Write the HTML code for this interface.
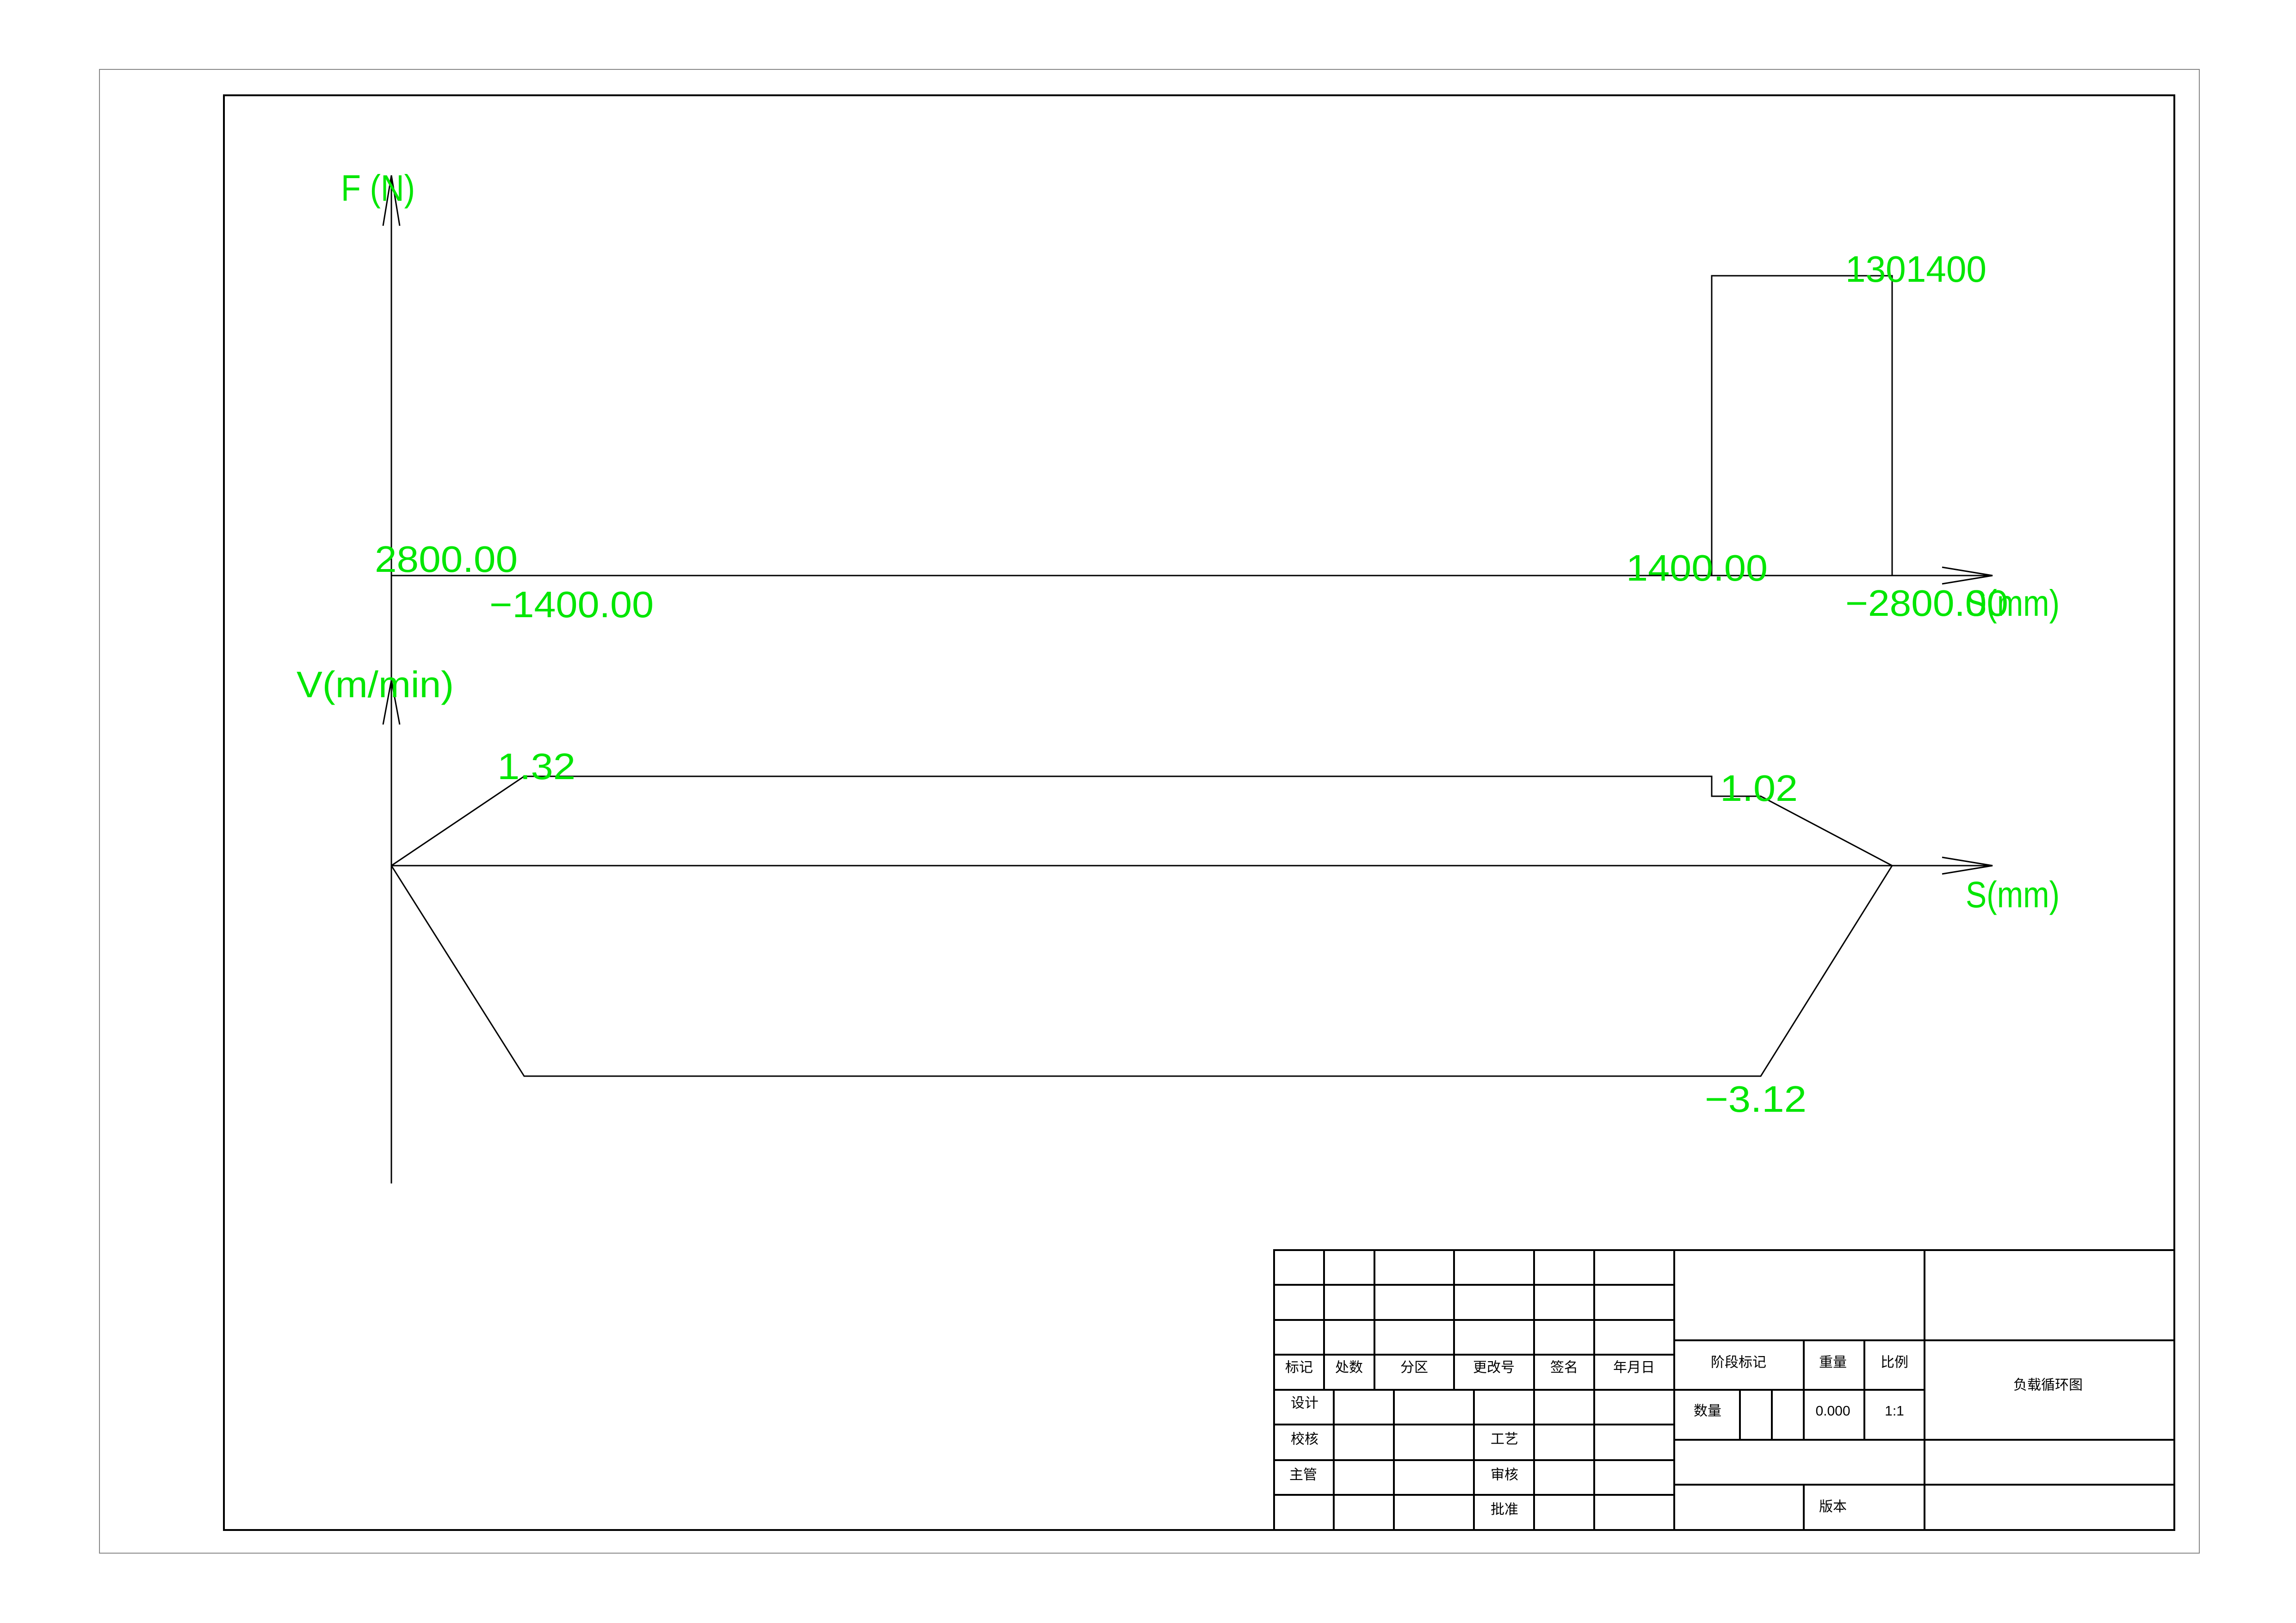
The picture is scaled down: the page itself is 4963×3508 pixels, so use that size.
<!DOCTYPE html>
<html><head><meta charset="utf-8"><style>
html,body{margin:0;padding:0;background:#fff;}
svg{display:block;}
.g{fill:#00e600;font-family:"Liberation Sans",sans-serif;font-size:80px;}
.c{fill:#000;font-family:"Liberation Sans","Noto Sans CJK SC",sans-serif;font-size:30px;text-anchor:middle;dominant-baseline:central;}
</style></head><body>
<svg width="4963" height="3508" viewBox="0 0 4963 3508" xmlns="http://www.w3.org/2000/svg">
<rect x="0" y="0" width="4963" height="3508" fill="#fff"/>
<rect x="215" y="150" width="4539" height="3207" fill="none" stroke="#888" stroke-width="2"/>
<rect x="484" y="206" width="4216" height="3101" fill="none" stroke="#000" stroke-width="4"/>

<g stroke="#000" stroke-width="3" fill="none">
<!-- F axis -->
<line x1="846" y1="379" x2="846" y2="2558"/>
<polyline points="828,488 846,379 864,488"/>
<line x1="846" y1="1244" x2="4307" y2="1244"/>
<polyline points="4198,1226 4307,1244 4198,1262"/>
<polyline points="3700,1244 3700,596 4090,596 4090,1244"/>
<!-- V axis -->
<polyline points="828,1566 846,1470 864,1566"/>
<line x1="846" y1="1871" x2="4307" y2="1871"/>
<polyline points="4198,1853 4307,1871 4198,1889"/>
<polyline points="846,1871 1133,1678 3700,1678 3700,1721 3806,1721 4090,1871"/>
<polyline points="846,1871 1133,2326 3806,2326 4090,1871"/>
</g>

<text class="g" x="737" y="434" textLength="160" lengthAdjust="spacingAndGlyphs">F (N)</text>
<text class="g" x="810" y="1236" textLength="309" lengthAdjust="spacingAndGlyphs">2800.00</text>
<text class="g" x="1058" y="1334" textLength="355" lengthAdjust="spacingAndGlyphs">−1400.00</text>
<text class="g" x="641" y="1507" textLength="340" lengthAdjust="spacingAndGlyphs">V(m/min)</text>
<text class="g" x="1075" y="1684" textLength="169" lengthAdjust="spacingAndGlyphs">1.32</text>
<text class="g" x="3989" y="609" textLength="305" lengthAdjust="spacingAndGlyphs">1301400</text>
<text class="g" x="3515" y="1255" textLength="306" lengthAdjust="spacingAndGlyphs">1400.00</text>
<text class="g" x="3989" y="1331" textLength="352" lengthAdjust="spacingAndGlyphs">−2800.00</text>
<text class="g" x="4249" y="1331" textLength="203" lengthAdjust="spacingAndGlyphs">S(mm)</text>
<text class="g" x="3718" y="1731" textLength="168" lengthAdjust="spacingAndGlyphs">1.02</text>
<text class="g" x="4249" y="1961" textLength="203" lengthAdjust="spacingAndGlyphs">S(mm)</text>
<text class="g" x="3685" y="2403" textLength="220" lengthAdjust="spacingAndGlyphs">−3.12</text>

<!-- title block -->
<g stroke="#000" stroke-width="4" fill="none">
<rect x="2754" y="2702" width="1946" height="605"/>
<!-- left horizontal rows -->
<line x1="2754" y1="2777" x2="3619" y2="2777"/>
<line x1="2754" y1="2853" x2="3619" y2="2853"/>
<line x1="2754" y1="2928" x2="3619" y2="2928"/>
<line x1="2754" y1="3004" x2="3619" y2="3004"/>
<line x1="2754" y1="3079" x2="3619" y2="3079"/>
<line x1="2754" y1="3156" x2="3619" y2="3156"/>
<line x1="2754" y1="3231" x2="3619" y2="3231"/>
<!-- upper left columns -->
<line x1="2862" y1="2702" x2="2862" y2="3004"/>
<line x1="2971" y1="2702" x2="2971" y2="3004"/>
<line x1="3143" y1="2702" x2="3143" y2="3004"/>
<line x1="3316" y1="2702" x2="3316" y2="3307"/>
<line x1="3446" y1="2702" x2="3446" y2="3307"/>
<line x1="3619" y1="2702" x2="3619" y2="3307"/>
<!-- lower left columns -->
<line x1="2883" y1="3004" x2="2883" y2="3307"/>
<line x1="3013" y1="3004" x2="3013" y2="3307"/>
<line x1="3186" y1="3004" x2="3186" y2="3307"/>
<!-- right part -->
<line x1="4160" y1="2702" x2="4160" y2="3307"/>
<line x1="3619" y1="2897" x2="4700" y2="2897"/>
<line x1="3619" y1="3004" x2="4160" y2="3004"/>
<line x1="3619" y1="3112" x2="4700" y2="3112"/>
<line x1="3619" y1="3209" x2="4700" y2="3209"/>
<line x1="3899" y1="2897" x2="3899" y2="3112"/>
<line x1="4030" y1="2897" x2="4030" y2="3112"/>
<line x1="3761" y1="3004" x2="3761" y2="3112"/>
<line x1="3830" y1="3004" x2="3830" y2="3112"/>
<line x1="3899" y1="3209" x2="3899" y2="3307"/>
</g>

<text class="c" x="2808" y="2956">标记</text>
<text class="c" x="2916" y="2956">处数</text>
<text class="c" x="3057" y="2956">分区</text>
<text class="c" x="3229" y="2956">更改号</text>
<text class="c" x="3381" y="2956">签名</text>
<text class="c" x="3532" y="2956">年月日</text>
<text class="c" x="2820" y="3033">设计</text>
<text class="c" x="2820" y="3111">校核</text>
<text class="c" x="2817" y="3188">主管</text>
<text class="c" x="3252" y="3111">工艺</text>
<text class="c" x="3252" y="3188">审核</text>
<text class="c" x="3252" y="3263">批准</text>
<text class="c" x="3758" y="2945">阶段标记</text>
<text class="c" x="3962" y="2945">重量</text>
<text class="c" x="4095" y="2945">比例</text>
<text class="c" x="3691" y="3050">数量</text>
<text class="c" x="3962" y="3050">0.000</text>
<text class="c" x="4095" y="3050">1:1</text>
<text class="c" x="4427" y="2994">负载循环图</text>
<text class="c" x="3962" y="3257">版本</text>
</svg>
</body></html>
